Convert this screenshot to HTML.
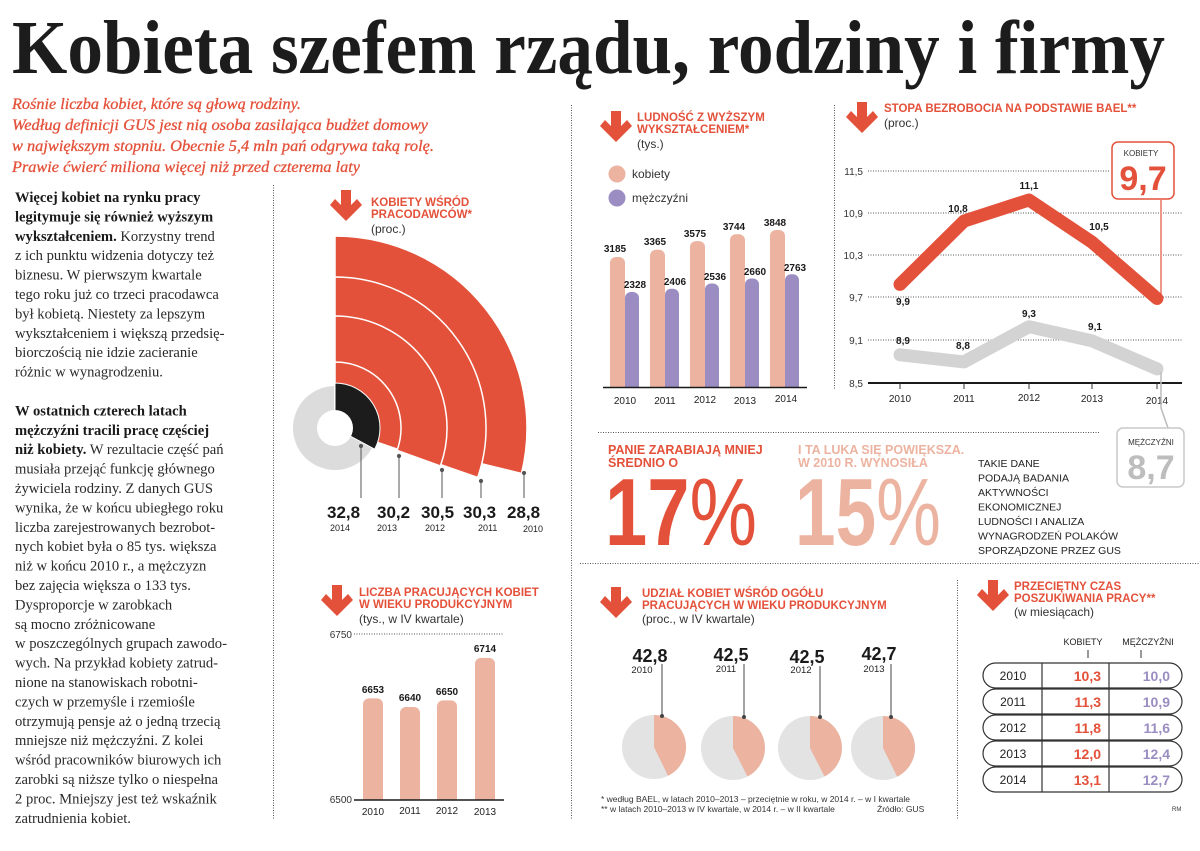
<!DOCTYPE html>
<html><head><meta charset="utf-8">
<style>
html,body{margin:0;padding:0;background:#fff;}
svg{display:block;}
.s{font-family:"Liberation Sans",sans-serif;}
.sr{font-family:"Liberation Serif",serif;}
.h{font-family:"Liberation Sans",sans-serif;font-weight:bold;font-size:11.5px;fill:#e4513a;}
.u{font-family:"Liberation Sans",sans-serif;font-size:12px;fill:#333;}
.b{font-family:"Liberation Sans",sans-serif;font-weight:bold;font-size:10px;fill:#1a1a1a;}
.t{font-family:"Liberation Serif",serif;font-size:14.6px;fill:#2a2a2a;}
.t tspan.bb{font-weight:bold;fill:#1a1a1a;}
</style></head>
<body>
<svg width="1200" height="851" viewBox="0 0 1200 851" xmlns="http://www.w3.org/2000/svg">
<defs>
<polygon id="arr" points="11,0 21,0 21,15 27,9 32,15 16,31 0,15 5,9 11,15" fill="#e4513a"/>
</defs>
<text class="sr" x="12" y="73" font-size="76" font-weight="bold" fill="#1c1c1c" textLength="1153" lengthAdjust="spacingAndGlyphs">Kobieta szefem rządu, rodziny i firmy</text>
<g class="sr" font-style="italic" font-size="16" fill="#e4513a" stroke="#e4513a" stroke-width="0.3">
<text x="12" y="109" textLength="289" lengthAdjust="spacingAndGlyphs">Rośnie liczba kobiet, które są głową rodziny.</text>
<text x="12" y="130" textLength="416" lengthAdjust="spacingAndGlyphs">Według definicji GUS  jest nią osoba zasilająca budżet domowy</text>
<text x="12" y="151" textLength="422" lengthAdjust="spacingAndGlyphs">w największym stopniu. Obecnie 5,4 mln pań odgrywa taką rolę.</text>
<text x="12" y="172" textLength="348" lengthAdjust="spacingAndGlyphs">Prawie ćwierć miliona więcej niż przed czterema laty</text>
</g>

<g stroke="#555" stroke-width="1" stroke-dasharray="1,1.5" fill="none">
<line x1="273.5" y1="185" x2="273.5" y2="820"/>
<line x1="571.5" y1="105" x2="571.5" y2="820"/>
<line x1="834.5" y1="105" x2="834.5" y2="390"/>
<line x1="957.5" y1="580" x2="957.5" y2="820"/>
<line x1="598" y1="432.5" x2="1100" y2="432.5"/>
<line x1="580" y1="563.5" x2="1200" y2="563.5"/>
</g>

<g class="t">
<text x="15" y="202"><tspan class="bb">Więcej kobiet na rynku pracy</tspan></text>
<text x="15" y="221.4"><tspan class="bb">legitymuje się również wyższym</tspan></text>
<text x="15" y="240.8"><tspan class="bb">wykształceniem.</tspan> Korzystny trend</text>
<text x="15" y="260.2">z ich punktu widzenia dotyczy też</text>
<text x="15" y="279.6">biznesu. W pierwszym kwartale</text>
<text x="15" y="299">tego roku już co trzeci pracodawca</text>
<text x="15" y="318.4">był kobietą. Niestety za lepszym</text>
<text x="15" y="337.8">wykształceniem i większą przedsię-</text>
<text x="15" y="357.2">biorczością nie idzie zacieranie</text>
<text x="15" y="376.6">różnic w wynagrodzeniu.</text>
<text x="15" y="415.4"><tspan class="bb">W ostatnich czterech latach</tspan></text>
<text x="15" y="434.8"><tspan class="bb">mężczyźni tracili pracę częściej</tspan></text>
<text x="15" y="454.2"><tspan class="bb">niż kobiety.</tspan> W rezultacie część pań</text>
<text x="15" y="473.6">musiała przejąć funkcję głównego</text>
<text x="15" y="493">żywiciela rodziny. Z danych GUS</text>
<text x="15" y="512.4">wynika, że w końcu ubiegłego roku</text>
<text x="15" y="531.8">liczba zarejestrowanych bezrobot-</text>
<text x="15" y="551.2">nych kobiet była o 85 tys. większa</text>
<text x="15" y="570.6">niż w końcu 2010 r., a mężczyzn</text>
<text x="15" y="590">bez zajęcia większa o 133 tys.</text>
<text x="15" y="609.4">Dysproporcje w zarobkach</text>
<text x="15" y="628.8">są mocno zróżnicowane</text>
<text x="15" y="648.2">w poszczególnych grupach zawodo-</text>
<text x="15" y="667.6">wych. Na przykład kobiety zatrud-</text>
<text x="15" y="687">nione na stanowiskach robotni-</text>
<text x="15" y="706.4">czych w przemyśle i rzemiośle</text>
<text x="15" y="725.8">otrzymują pensje aż o jedną trzecią</text>
<text x="15" y="745.2">mniejsze niż mężczyźni. Z kolei</text>
<text x="15" y="764.6">wśród pracowników biurowych ich</text>
<text x="15" y="784">zarobki są niższe tylko o niespełna</text>
<text x="15" y="803.4">2 proc. Mniejszy jest też wskaźnik</text>
<text x="15" y="822.8">zatrudnienia kobiet.</text>
</g>

<use href="#arr" x="330" y="190"/>
<text class="h" x="371" y="206">KOBIETY WŚRÓD</text>
<text class="h" x="371" y="218">PRACODAWCÓW*</text>
<text class="u" x="371" y="233">(proc.)</text>
<circle cx="335" cy="428" r="42" fill="#dcdcdc"/>
<g fill="#e4513a" stroke="#fff" stroke-width="1.5">
<path d="M335,428 L335,236 A192,192 0 0 1 521.5,473.5 Z"/>
<path d="M335,428 L335,277 A151,151 0 0 1 477.7,477.4 Z"/>
<path d="M335,428 L335,316 A112,112 0 0 1 440.4,465.9 Z"/>
<path d="M335,428 L335,362 A66,66 0 0 1 397.5,449.2 Z"/>
</g>
<path d="M335,428 L335,383 A45,45 0 0 1 374.7,449.2 Z" fill="#1c1c1c" stroke="#fff" stroke-width="1"/>
<circle cx="335" cy="428" r="18" fill="#fff"/>
<g stroke="#555" stroke-width="1" fill="#555">
<line x1="361" y1="446" x2="361" y2="498"/><circle cx="361" cy="446" r="1.6"/>
<line x1="399" y1="456" x2="399" y2="498"/><circle cx="399" cy="456" r="1.6"/>
<line x1="442" y1="470" x2="442" y2="498"/><circle cx="442" cy="470" r="1.6"/>
<line x1="481" y1="481" x2="481" y2="498"/><circle cx="481" cy="481" r="1.6"/>
<line x1="524" y1="473" x2="524" y2="498"/><circle cx="524" cy="473" r="1.6"/>
</g>
<g class="s" font-weight="bold" font-size="17" fill="#1a1a1a">
<text x="327" y="518">32,8</text><text x="377" y="518">30,2</text><text x="421" y="518">30,5</text><text x="463" y="518">30,3</text><text x="507" y="518">28,8</text>
</g>
<g class="s" font-size="9" fill="#222">
<text x="330" y="531">2014</text><text x="377" y="531">2013</text><text x="425" y="531">2012</text><text x="478" y="531">2011</text><text x="523" y="532">2010</text>
</g>

<use href="#arr" x="600" y="111"/>
<text class="h" x="637" y="121">LUDNOŚĆ Z WYŻSZYM</text>
<text class="h" x="637" y="133">WYKSZTAŁCENIEM*</text>
<text class="u" x="637" y="148">(tys.)</text>
<circle cx="617" cy="174" r="8.5" fill="#ecb3a0"/>
<text class="u" x="632" y="178" font-size="13">kobiety</text>
<circle cx="617" cy="198" r="8.5" fill="#9b8dc2"/>
<text class="u" x="632" y="202" font-size="13">mężczyźni</text>
<g fill="#ecb3a0">
<rect x="610" y="257" width="15" height="130" rx="6"/>
<rect x="650" y="249.7" width="15" height="137.3" rx="6"/>
<rect x="690" y="241.1" width="15" height="145.9" rx="6"/>
<rect x="730" y="234.2" width="15" height="152.8" rx="6"/>
<rect x="770" y="230" width="15" height="157" rx="6"/>
<rect x="610" y="377" width="15" height="10"/><rect x="650" y="377" width="15" height="10"/><rect x="690" y="377" width="15" height="10"/><rect x="730" y="377" width="15" height="10"/><rect x="770" y="377" width="15" height="10"/>
</g>
<g fill="#9b8dc2">
<rect x="625" y="292" width="14" height="95" rx="6"/>
<rect x="665" y="288.8" width="14" height="98.2" rx="6"/>
<rect x="705" y="283.5" width="14" height="103.5" rx="6"/>
<rect x="745" y="278.5" width="14" height="108.5" rx="6"/>
<rect x="785" y="274.3" width="14" height="112.7" rx="6"/>
<rect x="625" y="377" width="14" height="10"/><rect x="665" y="377" width="14" height="10"/><rect x="705" y="377" width="14" height="10"/><rect x="745" y="377" width="14" height="10"/><rect x="785" y="377" width="14" height="10"/>
</g>
<line x1="603" y1="387.5" x2="807" y2="387.5" stroke="#1a1a1a" stroke-width="1.5"/>
<g class="b" font-size="9" text-anchor="middle">
<text x="615" y="252">3185</text><text x="635" y="288">2328</text>
<text x="655" y="245">3365</text><text x="675" y="285">2406</text>
<text x="695" y="237">3575</text><text x="715" y="280">2536</text>
<text x="734" y="230">3744</text><text x="755" y="275">2660</text>
<text x="775" y="226">3848</text><text x="795" y="271">2763</text>
</g>
<g class="s" font-size="10" fill="#222" text-anchor="middle">
<text x="625" y="404">2010</text><text x="665" y="404">2011</text><text x="705" y="403">2012</text><text x="745" y="404">2013</text><text x="786" y="402">2014</text>
</g>

<use href="#arr" x="846" y="102"/>
<text class="h" x="884" y="112">STOPA BEZROBOCIA NA PODSTAWIE BAEL**</text>
<text class="u" x="884" y="127">(proc.)</text>
<g stroke="#555" stroke-width="1" stroke-dasharray="1,1.5">
<line x1="868" y1="171" x2="1110" y2="171"/>
<line x1="868" y1="213" x2="1182" y2="213"/>
<line x1="868" y1="255" x2="1182" y2="255"/>
<line x1="868" y1="297" x2="1182" y2="297"/>
<line x1="868" y1="340" x2="1182" y2="340"/>
</g>
<line x1="868" y1="383" x2="1182" y2="383" stroke="#1a1a1a" stroke-width="2"/>
<g class="s" font-size="10" fill="#333" text-anchor="end">
<text x="863" y="175">11,5</text><text x="863" y="217">10,9</text><text x="863" y="259">10,3</text><text x="863" y="301">9,7</text><text x="863" y="344">9,1</text><text x="863" y="387">8,5</text>
</g>
<g stroke="#333" stroke-width="1">
<line x1="900" y1="383" x2="900" y2="389"/><line x1="964" y1="383" x2="964" y2="389"/><line x1="1029" y1="383" x2="1029" y2="389"/><line x1="1092" y1="383" x2="1092" y2="389"/><line x1="1157" y1="383" x2="1157" y2="389"/>
</g>
<g class="s" font-size="10" fill="#222" text-anchor="middle">
<text x="900" y="402">2010</text><text x="964" y="402">2011</text><text x="1029" y="401">2012</text><text x="1092" y="402">2013</text><text x="1157" y="404">2014</text>
</g>
<polyline points="900,354.8 964,361.9 1029,326.7 1092,340.8 1157,368.9" fill="none" stroke="#d3d3d3" stroke-width="13" stroke-linejoin="round" stroke-linecap="round"/>
<polyline points="900,284.4 964,221.1 1029,200 1092,242.2 1157,298.5" fill="none" stroke="#e4513a" stroke-width="13" stroke-linejoin="round" stroke-linecap="round"/>
<g class="b" font-size="11" text-anchor="middle">
<text x="903" y="305">9,9</text><text x="958" y="212">10,8</text><text x="1029" y="189">11,1</text><text x="1099" y="230">10,5</text>
<text x="903" y="344">8,9</text><text x="963" y="349">8,8</text><text x="1029" y="317">9,3</text><text x="1095" y="330">9,1</text>
</g>
<line x1="1161" y1="200" x2="1161" y2="297" stroke="#e4513a" stroke-width="1.2"/>
<rect x="1112" y="142" width="62" height="57" rx="6" fill="#fff" stroke="#e4513a" stroke-width="1.5"/>
<text class="s" x="1141" y="156" font-size="8" fill="#333" text-anchor="middle">KOBIETY</text>
<text class="s" x="1143" y="190" font-size="34" font-weight="bold" fill="#e4513a" text-anchor="middle">9,7</text>
<polyline points="1161,372 1161,408 1168,428" fill="none" stroke="#bbb" stroke-width="1.5"/>
<rect x="1117" y="428" width="67" height="59" rx="6" fill="#fff" stroke="#c8c8c8" stroke-width="1.5"/>
<text class="s" x="1151" y="445" font-size="8" fill="#333" text-anchor="middle">MĘŻCZYŹNI</text>
<text class="s" x="1151" y="479" font-size="34" font-weight="bold" fill="#bdbdbd" text-anchor="middle">8,7</text>

<text class="s" x="608" y="454" font-size="12.5" font-weight="bold" fill="#e4513a">PANIE ZARABIAJĄ MNIEJ</text>
<text class="s" x="608" y="467" font-size="12.5" font-weight="bold" fill="#e4513a">ŚREDNIO O</text>
<text class="s" x="605" y="545" font-size="96" fill="#e4513a" textLength="152" lengthAdjust="spacingAndGlyphs"><tspan font-weight="bold">17</tspan>%</text>
<text class="s" x="798" y="454" font-size="12.5" font-weight="bold" fill="#ecb3a0">I TA LUKA SIĘ POWIĘKSZA.</text>
<text class="s" x="798" y="467" font-size="12.5" font-weight="bold" fill="#ecb3a0">W 2010 R. WYNOSIŁA</text>
<text class="s" x="795" y="545" font-size="96" fill="#ecb3a0" textLength="146" lengthAdjust="spacingAndGlyphs"><tspan font-weight="bold">15</tspan>%</text>
<g class="s" font-size="10.5" fill="#222">
<text x="978" y="467">TAKIE DANE</text><text x="978" y="481.5">PODAJĄ BADANIA</text><text x="978" y="496">AKTYWNOŚCI</text><text x="978" y="510.5">EKONOMICZNEJ</text><text x="978" y="525">LUDNOŚCI I ANALIZA</text><text x="978" y="539.5">WYNAGRODZEŃ POLAKÓW</text><text x="978" y="554">SPORZĄDZONE PRZEZ GUS</text>
</g>

<use href="#arr" x="321" y="585"/>
<text class="h" x="359" y="596">LICZBA PRACUJĄCYCH KOBIET</text>
<text class="h" x="359" y="608">W WIEKU PRODUKCYJNYM</text>
<text class="u" x="359" y="623">(tys., w IV kwartale)</text>
<line x1="354" y1="634" x2="504" y2="634" stroke="#555" stroke-dasharray="1,1.5"/>
<g class="s" font-size="10" fill="#333" text-anchor="end"><text x="352" y="638">6750</text><text x="352" y="803">6500</text></g>
<g fill="#ecb3a0">
<rect x="363" y="698.4" width="20" height="101.6" rx="6"/>
<rect x="400" y="707" width="20" height="93" rx="6"/>
<rect x="437" y="700.4" width="20" height="99.6" rx="6"/>
<rect x="475" y="657.9" width="20" height="142.1" rx="6"/>
<rect x="363" y="790" width="20" height="10"/><rect x="400" y="790" width="20" height="10"/><rect x="437" y="790" width="20" height="10"/><rect x="475" y="790" width="20" height="10"/>
</g>
<line x1="354" y1="800" x2="504" y2="800" stroke="#1a1a1a" stroke-width="1.5"/>
<g class="b" font-size="9" text-anchor="middle">
<text x="373" y="693">6653</text><text x="410" y="701">6640</text><text x="447" y="695">6650</text><text x="485" y="652">6714</text>
</g>
<g class="s" font-size="10" fill="#222" text-anchor="middle">
<text x="373" y="815">2010</text><text x="410" y="814">2011</text><text x="447" y="814">2012</text><text x="485" y="815">2013</text>
</g>

<use href="#arr" x="600" y="587"/>
<text class="h" x="642" y="597">UDZIAŁ  KOBIET WŚRÓD OGÓŁU</text>
<text class="h" x="642" y="609">PRACUJĄCYCH W WIEKU PRODUKCYJNYM</text>
<text class="u" x="642" y="623">(proc., w IV kwartale)</text>
<g fill="#e3e3e3"><circle cx="654" cy="747" r="32"/><circle cx="733" cy="748" r="32"/><circle cx="810" cy="748" r="32"/><circle cx="883" cy="748" r="32"/></g>
<g fill="#ecb3a0">
<path d="M654,747 L654,715 A32,32 0 0 1 668,775.8 Z"/>
<path d="M733,748 L733,716 A32,32 0 0 1 747.5,776.5 Z"/>
<path d="M810,748 L810,716 A32,32 0 0 1 824.5,776.5 Z"/>
<path d="M883,748 L883,716 A32,32 0 0 1 897.2,776.7 Z"/>
</g>
<g stroke="#444" stroke-width="1" fill="#444">
<line x1="662" y1="664" x2="662" y2="716"/><circle cx="662" cy="716" r="1.5"/>
<line x1="744" y1="664" x2="744" y2="717"/><circle cx="744" cy="717" r="1.5"/>
<line x1="820" y1="666" x2="820" y2="717"/><circle cx="820" cy="717" r="1.5"/>
<line x1="891" y1="664" x2="891" y2="717"/><circle cx="891" cy="717" r="1.5"/>
</g>
<g class="s" font-weight="bold" font-size="18" fill="#1a1a1a" text-anchor="middle">
<text x="650" y="662">42,8</text><text x="731" y="661">42,5</text><text x="807" y="663">42,5</text><text x="879" y="660">42,7</text>
</g>
<g class="s" font-size="9.5" fill="#222" text-anchor="middle">
<text x="642" y="673">2010</text><text x="726" y="672">2011</text><text x="801" y="673">2012</text><text x="874" y="672">2013</text>
</g>
<g class="s" font-size="8.5" fill="#333">
<text x="601" y="802">* według BAEL, w latach 2010–2013 – przeciętnie w roku, w 2014 r. – w I kwartale</text>
<text x="601" y="812">** w latach 2010–2013 w IV kwartale, w 2014 r. – w II kwartale</text>
<text x="877" y="812">Źródło: GUS</text>
</g>

<use href="#arr" x="977" y="580"/>
<text class="h" x="1014" y="590">PRZECIĘTNY CZAS</text>
<text class="h" x="1014" y="602">POSZUKIWANIA PRACY**</text>
<text class="u" x="1014" y="616">(w miesiącach)</text>
<g class="s" font-size="9" fill="#222" text-anchor="middle"><text x="1083" y="645">KOBIETY</text><text x="1148" y="645">MĘŻCZYŹNI</text></g>
<g stroke="#333" stroke-width="1"><line x1="1088" y1="650" x2="1088" y2="658"/><line x1="1141" y1="650" x2="1141" y2="658"/></g>
<g fill="none" stroke="#333" stroke-width="1.2">
<rect x="983" y="663" width="199" height="25" rx="12.5"/>
<rect x="983" y="689" width="199" height="25" rx="12.5"/>
<rect x="983" y="715" width="199" height="25" rx="12.5"/>
<rect x="983" y="741" width="199" height="25" rx="12.5"/>
<rect x="983" y="767" width="199" height="25" rx="12.5"/>
<line x1="1042" y1="663" x2="1042" y2="792"/><line x1="1109" y1="663" x2="1109" y2="792"/>
</g>
<g class="s" font-size="12" fill="#222" text-anchor="middle">
<text x="1013" y="680">2010</text><text x="1013" y="706">2011</text><text x="1013" y="732">2012</text><text x="1013" y="758">2013</text><text x="1013" y="784">2014</text>
</g>
<g class="s" font-size="14" font-weight="bold" fill="#e4513a" text-anchor="end">
<text x="1101" y="681">10,3</text><text x="1101" y="707">11,3</text><text x="1101" y="733">11,8</text><text x="1101" y="759">12,0</text><text x="1101" y="785">13,1</text>
</g>
<g class="s" font-size="14" font-weight="bold" fill="#9b8dc2" text-anchor="end">
<text x="1170" y="681">10,0</text><text x="1170" y="707">10,9</text><text x="1170" y="733">11,6</text><text x="1170" y="759">12,4</text><text x="1170" y="785">12,7</text>
</g>
<text class="s" x="1172" y="811" font-size="6" fill="#333">RM</text>
</svg>
</body></html>
